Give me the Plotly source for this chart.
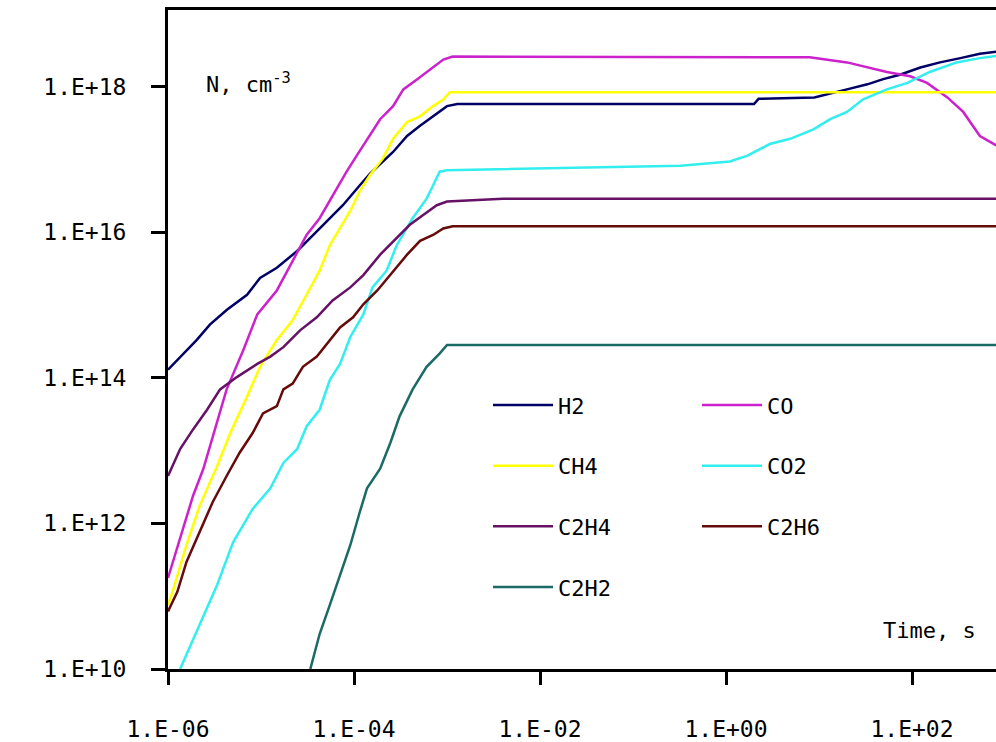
import plotly.graph_objects as go

# ---- data (time in s, number density in cm^-3) ----
t_H2 = [1.00e-6, 1.45e-6, 2.04e-6, 2.82e-6, 4.27e-6, 7.08e-6, 9.77e-6, 1.48e-5, 2.45e-5, 3.63e-5,
        5.25e-5, 7.59e-5, 1.15e-4, 1.48e-4, 2.63e-4, 3.72e-4, 5.13e-4, 7.08e-4, 1.00e-3, 1.29e-3,
        2.00, 2.24, 8.91, 20.0, 33.1, 49.0, 74.1, 123, 200, 331, 537, 832]
n_H2 = [1.29e14, 2.14e14, 3.31e14, 5.37e14, 8.51e14, 1.38e15, 2.34e15, 3.24e15, 5.50e15, 9.12e15,
        1.45e16, 2.34e16, 4.37e16, 6.31e16, 1.26e17, 2.09e17, 2.88e17, 3.89e17, 5.37e17, 5.75e17,
        5.75e17, 6.76e17, 7.08e17, 9.12e17, 1.07e18, 1.26e18, 1.45e18, 1.82e18, 2.14e18, 2.45e18, 2.82e18, 3.02e18]

t_CO = [1.00e-6, 1.86e-6, 2.40e-6, 3.02e-6, 4.27e-6, 6.46e-6, 9.12e-6, 1.48e-5, 1.91e-5, 3.09e-5,
        4.27e-5, 5.89e-5, 8.32e-5, 1.07e-4, 1.48e-4, 1.91e-4, 2.63e-4, 3.39e-4, 4.79e-4, 6.61e-4,
        9.12e-4, 1.15e-3, 7.94, 20.0, 33.1, 53.7, 95.5, 145, 240, 355, 537, 832]
n_CO = [1.78e11, 2.40e12, 5.62e12, 1.58e13, 6.92e13, 2.40e14, 7.41e14, 1.58e15, 2.95e15, 9.12e15,
        1.55e16, 3.16e16, 6.76e16, 1.12e17, 2.09e17, 3.55e17, 5.37e17, 9.12e17, 1.26e18, 1.70e18,
        2.34e18, 2.57e18, 2.51e18, 2.14e18, 1.82e18, 1.58e18, 1.38e18, 1.12e18, 7.08e17, 4.47e17, 2.09e17, 1.51e17]

t_CH4 = [1.00e-6, 1.12e-6, 1.58e-6, 2.19e-6, 3.39e-6, 4.68e-6, 7.08e-6, 9.77e-6, 1.48e-5, 2.19e-5,
         3.09e-5, 4.27e-5, 5.50e-5, 7.08e-5, 9.12e-5, 1.15e-4, 1.48e-4, 2.04e-4, 2.63e-4, 3.72e-4,
         5.13e-4, 7.08e-4, 9.12e-4, 1.07e-3, 832]
n_CH4 = [7.59e10, 1.15e11, 5.01e11, 1.74e12, 6.17e12, 1.74e13, 5.50e13, 1.41e14, 3.31e14, 6.17e14,
         1.38e15, 2.95e15, 6.61e15, 1.12e16, 1.95e16, 3.63e16, 6.03e16, 1.02e17, 1.91e17, 3.24e17,
         3.89e17, 5.37e17, 6.61e17, 8.32e17, 8.32e17]

t_CO2 = [1.35e-6, 2.19e-6, 3.39e-6, 5.01e-6, 8.13e-6, 1.26e-5, 1.74e-5, 2.45e-5, 3.09e-5, 4.27e-5,
         5.50e-5, 7.08e-5, 9.12e-5, 1.26e-4, 1.58e-4, 2.24e-4, 2.88e-4, 4.27e-4, 6.03e-4, 7.08e-4,
         8.32e-4, 1.00e-3, 3.16e-2, 0.324, 1.10, 1.70, 2.95, 4.90, 8.71, 13.2,
         20.0, 29.5, 53.7, 89.1, 155, 302, 537, 832]
n_CO2 = [1.00e10, 4.07e10, 1.45e11, 5.50e11, 1.58e12, 3.02e12, 6.76e12, 1.05e13, 2.14e13, 3.63e13,
         9.33e13, 1.55e14, 3.63e14, 7.41e14, 1.74e15, 2.95e15, 6.61e15, 1.55e16, 2.88e16, 4.37e16,
         6.76e16, 7.08e16, 7.59e16, 8.13e16, 9.33e16, 1.12e17, 1.62e17, 1.91e17, 2.57e17, 3.55e17,
         4.47e17, 6.61e17, 9.12e17, 1.12e18, 1.58e18, 2.14e18, 2.45e18, 2.63e18]

t_C2H4 = [1.00e-6, 1.35e-6, 1.86e-6, 2.63e-6, 3.63e-6, 5.50e-6, 9.12e-6, 1.26e-5, 1.74e-5, 2.63e-5,
          3.98e-5, 5.89e-5, 9.12e-5, 1.26e-4, 1.91e-4, 2.88e-4, 3.98e-4, 5.50e-4, 7.76e-4, 1.00e-3,
          3.98e-3, 832]
n_C2H4 = [4.47e12, 1.05e13, 1.95e13, 3.63e13, 6.92e13, 1.02e14, 1.55e14, 1.95e14, 2.63e14, 4.47e14,
          6.76e14, 1.15e15, 1.74e15, 2.57e15, 4.90e15, 8.32e15, 1.26e16, 1.70e16, 2.34e16, 2.63e16,
          2.88e16, 2.88e16]

t_C2H6 = [1.00e-6, 1.26e-6, 1.58e-6, 2.19e-6, 3.02e-6, 4.27e-6, 5.89e-6, 8.13e-6, 1.05e-5, 1.48e-5,
          1.74e-5, 2.19e-5, 2.82e-5, 3.98e-5, 5.13e-5, 7.08e-5, 9.77e-5, 1.26e-4, 1.78e-4, 2.45e-4,
          3.72e-4, 5.13e-4, 7.08e-4, 9.12e-4, 1.15e-3, 832]
n_C2H6 = [6.17e10, 1.15e11, 2.95e11, 7.59e11, 1.95e12, 4.47e12, 9.33e12, 1.74e13, 3.24e13, 4.07e13,
          6.92e13, 8.32e13, 1.41e14, 1.95e14, 2.88e14, 4.90e14, 6.76e14, 1.02e15, 1.58e15, 2.57e15,
          4.90e15, 7.59e15, 9.12e15, 1.12e16, 1.20e16, 1.20e16]

t_C2H2 = [3.39e-5, 4.27e-5, 5.50e-5, 7.08e-5, 9.12e-5, 1.15e-4, 1.38e-4, 1.91e-4, 2.45e-4, 3.09e-4,
          4.27e-4, 6.03e-4, 8.32e-4, 1.00e-3, 832]
n_C2H2 = [1.00e10, 3.02e10, 7.59e10, 1.95e11, 5.01e11, 1.41e12, 3.02e12, 5.62e12, 1.26e13, 2.95e13,
          6.92e13, 1.41e14, 2.14e14, 2.82e14, 2.82e14]

x_tickvals = [1e-6, 1e-4, 1e-2, 1e0, 1e2]
x_ticktext = ["1.E-06", "1.E-04", "1.E-02", "1.E+00", "1.E+02"]
y_tickvals = [1e10, 1e12, 1e14, 1e16, 1e18]
y_ticktext = ["1.E+10", "1.E+12", "1.E+14", "1.E+16", "1.E+18"]

series = [
    ("H2", t_H2, n_H2, "#000066", "legend"),
    ("CO", t_CO, n_CO, "#cc22cc", "legend2"),
    ("CH4", t_CH4, n_CH4, "#ffff00", "legend"),
    ("CO2", t_CO2, n_CO2, "#33eeee", "legend2"),
    ("C2H4", t_C2H4, n_C2H4, "#661166", "legend"),
    ("C2H6", t_C2H6, n_C2H6, "#660a0a", "legend2"),
    ("C2H2", t_C2H2, n_C2H2, "#1a6b66", "legend"),
]

FONT = "DejaVu Sans Mono"

fig = go.Figure()
for name, t, n, col, lg in series:
    fig.add_trace(go.Scatter(x=t, y=n, mode="lines", name=name,
                             line=dict(color=col, width=2.5),
                             legend=lg, legendgroup=name))

legend_common = dict(
    font=dict(family=FONT, size=22, color="black"),
    bgcolor="rgba(0,0,0,0)", borderwidth=0,
    tracegroupgap=29, itemwidth=60, xanchor="left", yanchor="top",
    itemclick=False, itemdoubleclick=False,
)

fig.update_layout(
    width=996, height=742,
    margin=dict(l=168, r=0, t=10, b=67),
    paper_bgcolor="white", plot_bgcolor="white",
    font=dict(family=FONT, size=22, color="black"),
    showlegend=True,
    legend=dict(x=(488 - 168) / 828, y=0.432, **legend_common),
    legend2=dict(x=(697 - 168) / 828, y=0.432, **legend_common),
    xaxis=dict(type="log", range=[-6, 2.903], showgrid=False, zeroline=False,
               showline=True, linecolor="black", linewidth=3, mirror=True,
               ticks="outside", ticklen=13, tickwidth=3, tickcolor="black",
               tickvals=x_tickvals, ticktext=x_ticktext, ticklabelstandoff=24,
               tickfont=dict(family=FONT, size=23, color="black")),
    yaxis=dict(type="log", range=[10, 19.05], showgrid=False, zeroline=False,
               showline=True, linecolor="black", linewidth=3,
               ticks="outside", ticklen=14, tickwidth=3, tickcolor="black",
               tickvals=y_tickvals, ticktext=y_ticktext, ticklabelstandoff=20,
               tickfont=dict(family=FONT, size=23, color="black")),
    annotations=[
        dict(text="N, cm<sup>-3</sup>", xref="paper", yref="paper",
             x=(204 - 168) / 828, y=(675 - 84) / 665, xanchor="left", yanchor="middle",
             showarrow=False, font=dict(family=FONT, size=22, color="black")),
        dict(text="Time, s", xref="paper", yref="paper",
             x=(978 - 168) / 828, y=(675 - 636) / 665, xanchor="right", yanchor="middle",
             showarrow=False, font=dict(family=FONT, size=22, color="black")),
    ],
)

fig.write_html("out.html")
